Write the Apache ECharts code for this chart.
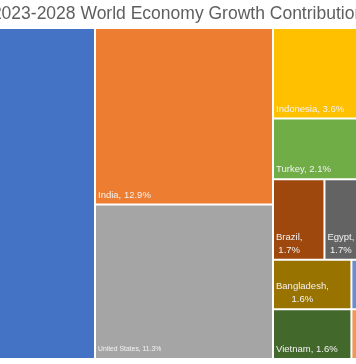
<!DOCTYPE html>
<html>
<head>
<meta charset="utf-8">
<script src="https://cdn.jsdelivr.net/npm/echarts@6/dist/echarts.min.js"></script>
<style>html,body{margin:0;padding:0;background:#fff;}#c{width:356px;height:364px;}</style>
</head>
<body>
<div id="c"></div>
<script>
// ---- data ----
const titleText = '2023-2028 World Economy Growth Contribution';
const countries = ['China', 'India', 'United States', 'Indonesia', 'Turkey', 'Brazil', 'Egypt', 'Bangladesh', 'Vietnam', '', '', '', ''];
const shares = [22.6, 12.9, 11.3, 3.6, 2.1, 1.7, 1.7, 1.6, 1.6, 0.22, 0.47, 0.5, 0.5];
// ---- styles ----
const colors = ['#4472C4', '#ED7D31', '#A5A5A5', '#FFC000', '#70AD47', '#9E480E', '#636363', '#997300', '#43682B', '#5B9BD5', '#264478', '#698ED0', '#F1975A'];
const wrapped = ['Brazil', 'Egypt', 'Bangladesh'];
const smallLabel = { 'United States': 6.8 };
// grouping used only to steer the treemap layout (indices into the arrays above)
const grouping = [[0, [1, 2]], [[3, 9], [4, 10], [5, 6], [[7, 8], [11, 12]]]];

const FONT = 'Liberation Sans';
const ctx = document.createElement('canvas').getContext('2d');
function textW(t, size) { ctx.font = size + 'px "' + FONT + '"'; return ctx.measureText(t).width; }

function leaf(i) {
  const name = countries[i];
  const size = smallLabel[name] || 9.5;
  const label = {
    show: name !== '',
    position: 'insideBottomLeft',
    distance: 0,
    padding: [0, 0, 2, 2],
    color: '#f2f2f2',
    fontFamily: FONT,
    fontSize: size,
    lineHeight: 13,
    formatter: '{b}, {c}%'
  };
  if (wrapped.indexOf(name) >= 0) {
    const l1 = name + ',', l2 = shares[i].toFixed(1) + '%';
    const mw = Math.max(textW(l1, size), textW(l2, size));
    label.formatter = '{b},\n{c}%';
    label.align = 'center';
    label.offset = [mw / 2 + 1, 0];
  }
  return {
    name: name,
    value: shares[i],
    itemStyle: { color: colors[i], borderWidth: 1, borderColor: '#fff', gapWidth: 0 },
    label: label
  };
}
function build(g) {
  if (typeof g === 'number') return leaf(g);
  return { name: '', children: g.map(build), itemStyle: { borderWidth: 0, gapWidth: 0 } };
}
const tree = grouping.map(build);

const chart = echarts.init(document.getElementById('c'), null, { renderer: 'canvas' });
chart.setOption({
  animation: false,
  title: {
    text: titleText, left: 'center', top: 5, padding: 0,
    textStyle: { fontFamily: FONT, fontSize: 17.5, fontWeight: 'normal', color: '#5f5f5f' }
  },
  tooltip: { show: false },
  series: [{
    type: 'treemap',
    left: -71.22, top: 28, width: 447.12, height: 331,
    roam: false, nodeClick: false, breadcrumb: { show: false },
    squareRatio: 1, sort: false,
    itemStyle: { borderWidth: 0, gapWidth: 0, borderColor: '#fff' },
    upperLabel: { show: false },
    data: tree
  }]
});
</script>
</body>
</html>
